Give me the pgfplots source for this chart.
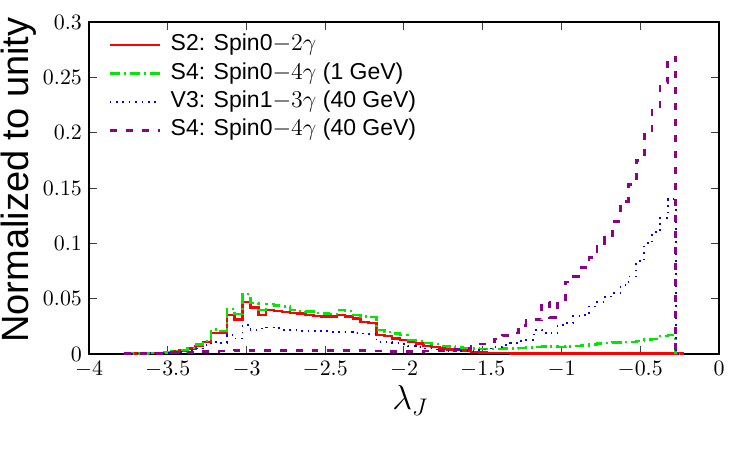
\documentclass[border=0pt]{standalone}
\usepackage[no-math]{fontspec}
\setmainfont{Liberation Sans}
\usepackage{pgfplots}
\pgfplotsset{compat=1.18}
\definecolor{cgreen}{RGB}{0,232,0}
\definecolor{cpurple}{RGB}{140,0,140}
\begin{document}
\begin{tikzpicture}
\path[use as bounding box] (-44.5pt,-48pt) rectangle (330.5pt,177pt);
\begin{axis}[
  scale only axis, width=315pt, height=166pt,
  xmin=-4, xmax=0, ymin=0, ymax=0.3,
  xtick={-4,-3.5,-3,-2.5,-2,-1.5,-1,-0.5,0},
  xticklabels={$-4$,$-3.5$,$-3$,$-2.5$,$-2$,$-1.5$,$-1$,$-0.5$,$0$},
  ytick={0,0.05,0.1,0.15,0.2,0.25,0.3},
  yticklabels={$0$,$0.05$,$0.1$,$0.15$,$0.2$,$0.25$,$0.3$},
  scaled y ticks=false,
  tick label style={font=\fontsize{11}{13}\selectfont},
  tick align=inside, major tick length=4pt,
  tick style={black!75, line width=0.5pt},
  axis line style={black, line width=0.6pt},
  ylabel={Normalized to unity},
  ylabel style={font=\fontsize{19}{21}\selectfont, at={(axis description cs:-0.112,0.524)}, anchor=center},
  xlabel={$\lambda_J$},
  xlabel style={font=\fontsize{18}{20}\selectfont, at={(axis description cs:0.51,-0.14)}, anchor=center},
  legend image code/.code={\draw[#1] (0pt,0pt) -- (25pt,0pt);},
  legend cell align=left,
  legend style={at={(axis description cs:0.030,0.972)}, anchor=north west, draw=none, fill=none,
    inner sep=0pt, font=\fontsize{11.5}{13}\selectfont, row sep=0.7pt, column sep=3.8pt,
    nodes={inner sep=1pt, text height=8.5pt, text depth=3pt}},
]
\addplot[red, line width=1.2pt, const plot mark mid] coordinates {
(-3.775,0.0004) (-3.75,0.0004) (-3.7,0.0005) (-3.65,0.0006) (-3.6,0.0008) (-3.55,0.001) (-3.5,0.0014) (-3.45,0.0022) (-3.4,0.003) (-3.35,0.005) (-3.3,0.0075) (-3.25,0.011) (-3.2,0.019) (-3.15,0.019) (-3.1,0.035) (-3.05,0.031) (-3.0,0.047) (-2.95,0.042) (-2.9,0.035) (-2.85,0.040) (-2.8,0.039) (-2.75,0.038) (-2.7,0.037) (-2.65,0.0365) (-2.6,0.035) (-2.55,0.0345) (-2.5,0.034) (-2.45,0.034) (-2.4,0.035) (-2.35,0.034) (-2.3,0.032) (-2.25,0.029) (-2.2,0.028) (-2.15,0.017) (-2.1,0.0165) (-2.05,0.014) (-2.0,0.0125) (-1.95,0.011) (-1.9,0.0095) (-1.85,0.0075) (-1.8,0.0065) (-1.75,0.005) (-1.7,0.0042) (-1.65,0.0035) (-1.6,0.003) (-1.55,0.002) (-1.5,0.0015) (-1.45,0.001) (-1.4,0.0008) (-1.35,0.0007) (-1.3,0.0006) (-1.25,0.0005) (-1.2,0.0005) (-1.0,0.0004) (-0.8,0.0004) (-0.6,0.0003) (-0.4,0.0003) (-0.3,0.0003) (-0.25,0.0003) (-0.225,0.0003)
};
\addlegendentry{S2: Spin0$-2\gamma$}
\addplot[cgreen, line width=1.2pt, dash pattern=on 5pt off 2pt on 1pt off 2pt, const plot mark mid] coordinates {
(-3.775,0.0004) (-3.75,0.0004) (-3.7,0.0005) (-3.65,0.0006) (-3.6,0.0008) (-3.55,0.001) (-3.5,0.0015) (-3.45,0.0025) (-3.4,0.0035) (-3.35,0.0055) (-3.3,0.0085) (-3.25,0.012) (-3.2,0.022) (-3.15,0.021) (-3.1,0.0405) (-3.05,0.036) (-3.0,0.054) (-2.95,0.046) (-2.9,0.040) (-2.85,0.045) (-2.8,0.0437) (-2.75,0.043) (-2.7,0.040) (-2.65,0.039) (-2.6,0.0385) (-2.55,0.037) (-2.5,0.0367) (-2.45,0.036) (-2.4,0.040) (-2.35,0.039) (-2.3,0.035) (-2.25,0.034) (-2.2,0.0335) (-2.15,0.0217) (-2.1,0.020) (-2.05,0.0187) (-2.0,0.017) (-1.95,0.0127) (-1.9,0.012) (-1.85,0.0097) (-1.8,0.009) (-1.75,0.0075) (-1.7,0.0066) (-1.65,0.006) (-1.6,0.0052) (-1.55,0.005) (-1.5,0.0047) (-1.45,0.0045) (-1.4,0.0046) (-1.35,0.0048) (-1.3,0.005) (-1.25,0.0052) (-1.2,0.0058) (-1.15,0.0063) (-1.1,0.0066) (-1.05,0.0066) (-1.0,0.0065) (-0.95,0.0068) (-0.9,0.0075) (-0.85,0.0078) (-0.8,0.0085) (-0.75,0.0095) (-0.7,0.0098) (-0.65,0.0103) (-0.6,0.0108) (-0.55,0.011) (-0.5,0.012) (-0.45,0.013) (-0.4,0.0135) (-0.35,0.016) (-0.3,0.017) (-0.25,0)
};
\addlegendentry{S4: Spin0$-4\gamma$ (1 GeV)}
\addplot[blue, line width=0.9pt, dash pattern=on 0.8pt off 2.4pt, const plot mark mid] coordinates {
(-3.775,0.0003) (-3.75,0.0003) (-3.7,0.0004) (-3.65,0.0005) (-3.6,0.0006) (-3.55,0.0008) (-3.5,0.001) (-3.45,0.0015) (-3.4,0.002) (-3.35,0.0035) (-3.3,0.005) (-3.25,0.008) (-3.2,0.011) (-3.15,0.010) (-3.1,0.017) (-3.05,0.014) (-3.0,0.026) (-2.95,0.022) (-2.9,0.023) (-2.85,0.024) (-2.8,0.0235) (-2.75,0.022) (-2.7,0.022) (-2.65,0.021) (-2.6,0.021) (-2.55,0.021) (-2.5,0.0205) (-2.45,0.020) (-2.4,0.020) (-2.35,0.020) (-2.3,0.019) (-2.25,0.0185) (-2.2,0.018) (-2.15,0.011) (-2.1,0.0105) (-2.05,0.010) (-2.0,0.009) (-1.95,0.0075) (-1.9,0.0066) (-1.85,0.005) (-1.8,0.004) (-1.75,0.0035) (-1.7,0.003) (-1.65,0.0027) (-1.6,0.0027) (-1.55,0.003) (-1.5,0.004) (-1.45,0.005) (-1.4,0.006) (-1.35,0.008) (-1.3,0.0097) (-1.25,0.012) (-1.2,0.013) (-1.15,0.0217) (-1.1,0.0187) (-1.05,0.019) (-1.0,0.026) (-0.95,0.028) (-0.9,0.034) (-0.85,0.035) (-0.8,0.043) (-0.75,0.047) (-0.7,0.052) (-0.65,0.055) (-0.6,0.062) (-0.55,0.07) (-0.5,0.084) (-0.45,0.10) (-0.4,0.11) (-0.35,0.123) (-0.3,0.14) (-0.25,0)
};
\addlegendentry{V3: Spin1$-3\gamma$ (40 GeV)}
\addplot[cpurple, line width=1.4pt, dash pattern=on 3.5pt off 4.5pt, const plot mark mid] coordinates {
(-3.775,0.0002) (-3.75,0.0002) (-3.7,0.0003) (-3.65,0.0004) (-3.6,0.0005) (-3.55,0.0006) (-3.5,0.0008) (-3.45,0.001) (-3.4,0.0013) (-3.35,0.0017) (-3.3,0.002) (-3.25,0.0023) (-3.2,0.0025) (-3.15,0.0027) (-3.1,0.0028) (-3.05,0.003) (-3.0,0.0035) (-2.95,0.0032) (-2.9,0.0033) (-2.85,0.0034) (-2.8,0.0035) (-2.75,0.0034) (-2.7,0.0035) (-2.65,0.0033) (-2.6,0.0034) (-2.55,0.0033) (-2.5,0.0032) (-2.45,0.0033) (-2.4,0.0032) (-2.35,0.0031) (-2.3,0.003) (-2.25,0.003) (-2.2,0.0028) (-2.15,0.0027) (-2.1,0.0026) (-2.05,0.0025) (-2.0,0.0025) (-1.95,0.0025) (-1.9,0.0026) (-1.85,0.0027) (-1.8,0.0028) (-1.75,0.003) (-1.7,0.0033) (-1.65,0.004) (-1.6,0.005) (-1.55,0.007) (-1.5,0.009) (-1.45,0.011) (-1.4,0.0135) (-1.35,0.017) (-1.3,0.019) (-1.25,0.026) (-1.2,0.03) (-1.15,0.031) (-1.1,0.047) (-1.05,0.033) (-1.0,0.049) (-0.95,0.065) (-0.9,0.07) (-0.85,0.078) (-0.8,0.087) (-0.75,0.097) (-0.7,0.105) (-0.65,0.12) (-0.6,0.138) (-0.55,0.153) (-0.5,0.175) (-0.45,0.20) (-0.4,0.222) (-0.35,0.245) (-0.3,0.268) (-0.25,0)
};
\addlegendentry{S4: Spin0$-4\gamma$ (40 GeV)}
\end{axis}
\end{tikzpicture}
\end{document}
